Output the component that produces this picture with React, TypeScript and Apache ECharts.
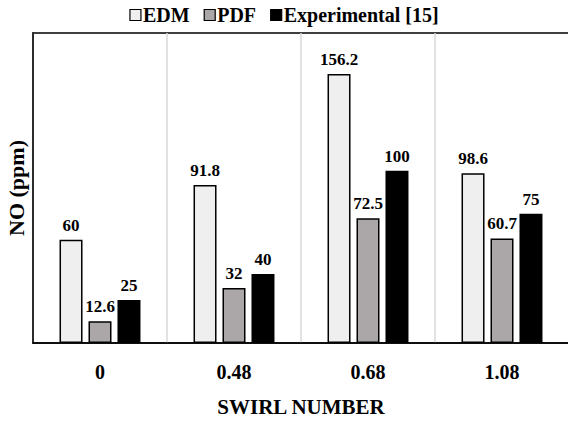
import React, { useEffect, useRef } from "react";
import * as echarts from "echarts";

const categories = ["0", "0.48", "0.68", "1.08"];
const edm = [60, 91.8, 156.2, 98.6];
const pdf = [12.6, 32, 72.5, 60.7];
const experimental = [25, 40, 100, 75];
const seriesNames = ["EDM", "PDF", "Experimental [15]"];

const FONT = "Liberation Serif";

export default function App() {
  const ref = useRef<HTMLDivElement>(null);
  useEffect(() => {
    if (!ref.current) return;
    const chart = echarts.init(ref.current, null, { renderer: "svg" });
    const label = {
      show: true,
      position: "top",
      distance: 6,
      color: "#000",
      fontFamily: FONT,
      fontWeight: "bold",
      fontSize: 17,
    };
    const mk = (name: string, data: number[], color: string) => ({
      name,
      type: "bar",
      data,
      barWidth: 23,
      barGap: "26%",
      itemStyle: { color, borderColor: "#000", borderWidth: 1.5 },
      label,
    });
    chart.setOption({
      animation: false,
      backgroundColor: "#fff",
      textStyle: { fontFamily: FONT },
      legend: {
        top: 0,
        left: "center",
        icon: "rect",
        itemWidth: 11,
        itemHeight: 11,
        itemGap: 14,
        textStyle: { fontFamily: FONT, fontWeight: "bold", fontSize: 20, color: "#000", padding: [0, 0, 0, -3] },
        itemStyle: { borderColor: "#000", borderWidth: 1.2 },
        data: seriesNames,
      },
      grid: {
        show: true,
        left: 33,
        top: 33,
        width: 536,
        height: 310,
        outerBoundsMode: "none",
        containLabel: false,
        borderColor: "#000",
        borderWidth: 1.5,
        backgroundColor: "#fff",
      },
      xAxis: {
        type: "category",
        data: categories,
        name: "SWIRL NUMBER",
        nameLocation: "middle",
        nameGap: 53,
        nameTextStyle: { fontFamily: FONT, fontWeight: "bold", fontSize: 21, color: "#000" },
        axisLine: { show: true, lineStyle: { color: "#000", width: 1.5 } },
        axisTick: { show: false },
        axisLabel: { margin: 19, fontFamily: FONT, fontWeight: "bold", fontSize: 20, color: "#000" },
        splitLine: { show: true, lineStyle: { color: "#d9d9d9", width: 1.5 } },
      },
      yAxis: {
        type: "value",
        min: 0,
        max: 180,
        name: "NO (ppm)",
        nameLocation: "middle",
        nameGap: 6,
        nameTextStyle: { fontFamily: FONT, fontWeight: "bold", fontSize: 22, color: "#000" },
        axisLine: { show: true, lineStyle: { color: "#000", width: 1.5 } },
        axisTick: { show: false },
        axisLabel: { show: false },
        splitLine: { show: false },
      },
      series: [
        mk(seriesNames[0], edm, "#efefef"),
        mk(seriesNames[1], pdf, "#aba7a9"),
        mk(seriesNames[2], experimental, "#000000"),
      ],
    });
    return () => chart.dispose();
  }, []);
  return (
    <div
      ref={ref}
      style={{ position: "fixed", left: 0, top: 0, width: 568, height: 421 }}
    />
  );
}
